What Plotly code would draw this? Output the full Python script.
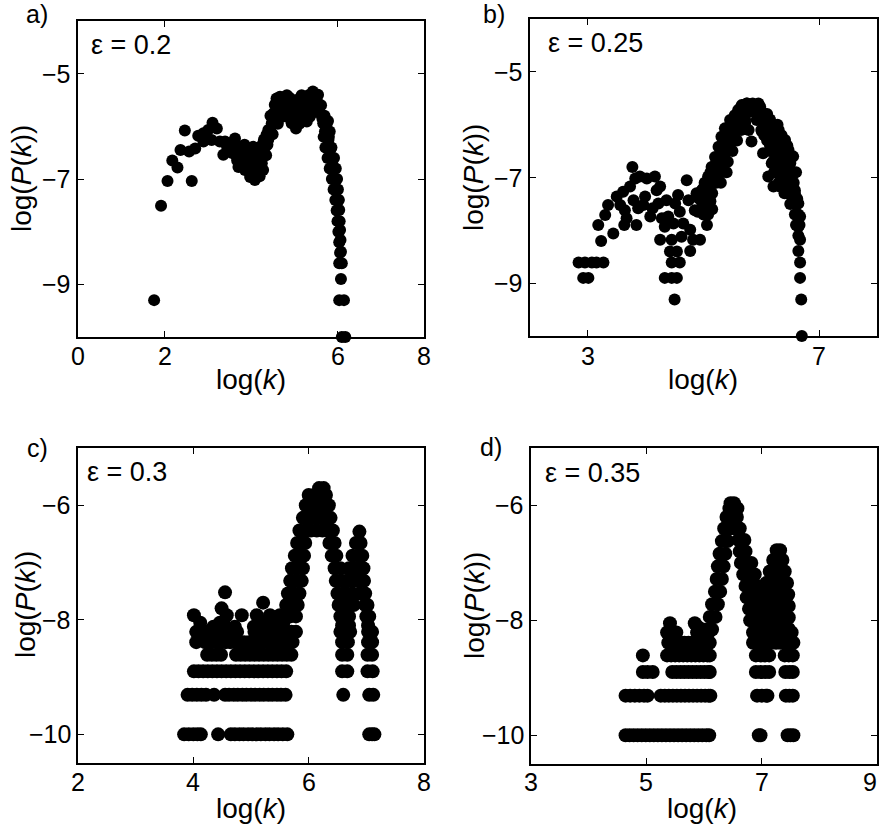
import plotly.graph_objects as go

# ---------------- data (natural-log values) ----------------
# panel a, epsilon = 0.2
a_points = [
    (1.76, -9.30), (1.92, -7.51), (2.07, -7.04), (2.18, -6.65), (2.30, -6.78), (2.37, -6.45),
    (2.47, -6.08), (2.57, -6.48), (2.63, -7.04), (2.71, -6.42), (2.78, -6.18), (2.90, -6.13),
    (2.90, -6.29), (3.01, -6.07), (3.09, -6.26), (3.11, -5.93), (3.21, -6.04), (3.28, -6.29),
    (3.36, -6.54), (3.40, -6.29), (3.45, -6.40), (3.51, -6.35), (3.55, -6.50), (3.58, -6.30),
    (3.60, -6.40), (3.63, -6.23), (3.65, -6.55), (3.68, -6.65), (3.71, -6.39), (3.71, -6.77),
    (3.75, -6.61), (3.78, -6.75), (3.80, -6.60), (3.82, -6.48), (3.85, -6.35), (3.86, -6.83),
    (3.90, -6.67), (3.92, -6.45), (3.95, -6.55), (3.98, -6.96), (4.00, -6.70), (4.02, -6.55),
    (4.05, -6.39), (4.05, -6.85), (4.09, -7.02), (4.10, -6.75), (4.12, -6.90), (4.15, -6.60),
    (4.17, -6.83), (4.18, -6.40), (4.20, -6.95), (4.21, -6.51), (4.25, -6.70), (4.25, -6.55),
    (4.28, -6.83), (4.28, -6.32), (4.30, -6.25), (4.32, -6.40), (4.35, -6.55), (4.36, -6.16),
    (4.38, -6.35), (4.40, -6.07), (4.40, -6.25), (4.45, -6.10), (4.45, -5.80), (4.48, -5.94),
    (4.50, -5.95), (4.50, -6.15), (4.52, -5.75), (4.55, -5.59), (4.55, -5.85), (4.58, -5.85),
    (4.59, -5.47), (4.60, -5.70), (4.62, -5.60), (4.62, -5.95), (4.65, -5.85), (4.67, -5.44),
    (4.70, -5.55), (4.70, -5.70), (4.75, -5.45), (4.75, -5.69), (4.78, -5.55), (4.80, -5.65),
    (4.83, -5.41), (4.83, -5.82), (4.88, -5.45), (4.90, -5.55), (4.90, -5.75), (4.94, -5.94),
    (4.95, -5.50), (4.98, -5.63), (5.00, -5.80), (5.00, -5.65), (5.04, -6.04), (5.05, -5.90),
    (5.05, -5.50), (5.09, -5.56), (5.10, -5.75), (5.12, -5.95), (5.15, -5.65), (5.15, -5.85),
    (5.17, -5.41), (5.20, -5.60), (5.20, -5.85), (5.25, -5.75), (5.25, -5.45), (5.29, -5.91),
    (5.30, -5.55), (5.33, -5.41), (5.35, -5.65), (5.36, -5.82), (5.40, -5.50), (5.40, -5.75),
    (5.43, -5.34), (5.45, -5.65), (5.48, -5.40), (5.50, -5.45), (5.50, -5.70), (5.52, -5.50),
    (5.55, -5.40), (5.56, -5.63), (5.60, -5.75), (5.62, -5.60), (5.65, -5.85), (5.67, -5.94),
    (5.68, -6.20), (5.70, -5.80), (5.71, -6.10), (5.72, -6.40), (5.75, -5.95), (5.77, -6.60),
    (5.78, -5.90), (5.79, -6.26), (5.80, -6.20), (5.82, -6.10), (5.82, -6.80), (5.83, -6.45),
    (5.86, -6.40), (5.87, -6.64), (5.87, -7.00), (5.90, -6.83), (5.91, -7.20), (5.92, -6.60),
    (5.94, -7.02), (5.95, -7.40), (5.96, -6.80), (5.98, -7.21), (5.98, -7.60), (5.99, -7.00),
    (6.00, -7.80), (6.01, -7.20), (6.02, -7.40), (6.02, -8.00), (6.03, -7.40), (6.04, -7.59),
    (6.04, -8.20), (6.05, -7.80), (6.06, -7.97), (6.06, -8.40), (6.07, -8.16), (6.08, -8.38),
    (6.04, -8.60), (6.10, -8.60), (6.08, -8.90), (6.04, -9.30), (6.15, -9.30), (6.10, -10.0),
    (6.18, -10.0),
]

# panel b, epsilon = 0.25
b_points = [
    (2.84, -8.61), (2.95, -8.61), (3.07, -8.61), (3.15, -8.61), (3.27, -8.61), (2.92, -8.90),
    (3.01, -8.90), (3.23, -8.20), (3.18, -7.90), (3.30, -7.71), (3.35, -7.52), (3.44, -8.06),
    (3.50, -7.36), (3.56, -7.52), (3.61, -7.27), (3.64, -7.62), (3.67, -7.77), (3.63, -7.90),
    (3.73, -7.17), (3.77, -6.80), (3.82, -7.02), (3.79, -7.43), (3.84, -7.90), (3.87, -7.58),
    (3.90, -6.98), (3.99, -7.36), (3.96, -7.52), (4.02, -7.02), (4.08, -7.74), (4.12, -7.58),
    (4.16, -6.98), (4.19, -7.24), (4.25, -7.17), (4.22, -7.49), (4.28, -7.77), (4.25, -8.18),
    (4.33, -7.93), (4.36, -7.43), (4.39, -7.74), (4.45, -8.18), (4.42, -8.40), (4.54, -8.40),
    (4.45, -8.61), (4.59, -8.61), (4.33, -8.90), (4.45, -8.90), (4.54, -8.90), (4.50, -9.31),
    (4.48, -7.87), (4.51, -7.49), (4.56, -7.33), (4.59, -7.65), (4.65, -7.87), (4.62, -8.12),
    (4.71, -7.05), (4.74, -7.43), (4.77, -7.99), (4.77, -8.39), (4.82, -8.18), (4.85, -7.62),
    (4.88, -7.30), (4.94, -8.18), (4.97, -7.24), (5.00, -7.49), (5.06, -7.90), (5.03, -7.11),
    (5.08, -6.98), (5.11, -7.36), (5.14, -6.80), (5.17, -7.11), (5.20, -6.61), (5.23, -6.92),
    (5.26, -6.42), (5.29, -6.73), (5.31, -6.23), (5.36, -6.54), (5.37, -6.07), (5.43, -6.35),
    (5.46, -5.91), (5.52, -6.16), (5.54, -5.82), (5.60, -5.72), (5.66, -5.63), (5.75, -5.60),
    (5.80, -5.63), (5.72, -5.97), (5.78, -6.10), (5.83, -6.32), (5.86, -5.72), (5.92, -5.91),
    (5.98, -5.66), (6.01, -6.13), (6.03, -5.78), (6.03, -6.54), (6.06, -5.97), (6.12, -6.29),
    (6.12, -6.98), (6.18, -6.73), (6.21, -7.17), (6.24, -6.20), (6.27, -6.48), (6.29, -6.92),
    (6.32, -7.17), (6.41, -6.29), (6.38, -6.61), (6.44, -6.92), (6.47, -6.48), (6.50, -6.73),
    (6.44, -7.30), (6.53, -6.98), (6.55, -7.43), (6.58, -7.24), (6.64, -7.49), (6.67, -7.74),
    (6.64, -7.93), (6.67, -8.18), (6.64, -8.39), (6.67, -8.61), (6.67, -8.90), (6.69, -9.31),
    (6.70, -10.0),
    # dense hump, left leg
    (4.95, -7.30), (5.05, -7.30), (5.15, -7.30), (5.02, -7.10), (5.12, -7.10), (5.22, -7.10),
    (5.30, -7.10), (5.12, -6.90), (5.22, -6.90), (5.32, -6.90), (5.40, -6.90), (5.22, -6.70),
    (5.32, -6.70), (5.42, -6.70), (5.30, -6.50), (5.40, -6.50), (5.50, -6.50), (5.38, -6.30),
    (5.48, -6.30), (5.58, -6.30), (5.47, -6.10), (5.57, -6.10), (5.65, -6.10), (5.55, -5.90),
    (5.65, -5.90), (5.72, -5.90), (5.62, -5.75), (5.72, -5.75), (5.80, -5.75), (4.98, -7.50),
    (5.08, -7.50), (5.00, -7.70), (5.08, -7.70), (5.00, -7.20), (5.10, -7.20), (5.20, -7.00),
    (5.28, -6.80), (5.36, -6.60), (5.45, -6.40), (5.53, -6.20), (5.60, -6.00), (5.68, -5.82),
    (5.18, -6.80), (5.26, -6.60), (5.35, -6.40), (5.43, -6.20), (5.52, -6.00), (5.60, -5.82),
    (4.92, -7.40), (5.02, -7.40), (5.12, -7.45), (4.90, -7.65), (5.15, -7.60),
    # dense hump, right leg
    (5.75, -5.60), (5.85, -5.60), (5.95, -5.60), (5.90, -5.75), (6.00, -5.75), (5.95, -5.90),
    (6.05, -5.90), (6.15, -5.90), (6.00, -6.10), (6.10, -6.10), (6.20, -6.10), (6.30, -6.10),
    (6.10, -6.30), (6.20, -6.30), (6.30, -6.30), (6.40, -6.30), (6.15, -6.50), (6.25, -6.50),
    (6.35, -6.50), (6.45, -6.50), (6.20, -6.70), (6.30, -6.70), (6.40, -6.70), (6.50, -6.70),
    (6.22, -6.90), (6.32, -6.90), (6.42, -6.90), (6.50, -6.90), (6.30, -7.10), (6.40, -7.10),
    (6.50, -7.10), (6.56, -7.10), (6.40, -7.30), (6.50, -7.30), (6.58, -7.30), (6.50, -7.50),
    (6.60, -7.50), (6.58, -7.70), (6.64, -7.70), (6.60, -7.90), (6.66, -7.90), (6.64, -8.10),
    (6.05, -6.20), (6.15, -6.40), (6.25, -6.60), (6.35, -6.80), (6.45, -7.00), (6.55, -7.20),
    (6.35, -6.20), (6.45, -6.40), (6.55, -6.60), (6.25, -6.20), (6.15, -6.20), (6.45, -6.80),
    (6.35, -7.00), (6.60, -6.90), (6.62, -7.40), (6.28, -6.00), (6.18, -6.00), (6.08, -6.00),
    (5.85, -5.70), (5.95, -5.70), (6.10, -5.80),
]

# panel c, epsilon = 0.3 : quantised low rows (y level -> x values)
c_rows = {
    -10.0: [3.84, 3.92, 4.00, 4.07, 4.13, 4.43, 4.65, 4.72, 4.80, 4.87, 4.95, 5.02, 5.10, 5.17,
            5.25, 5.32, 5.40, 5.47, 5.55, 5.63, 7.05, 7.10, 7.14],
    -9.31: [3.90, 3.98, 4.06, 4.14, 4.22, 4.36, 4.55, 4.62, 4.70, 4.77, 4.85, 4.92, 5.00, 5.07,
            5.15, 5.22, 5.30, 5.37, 5.45, 5.52, 5.60, 6.60, 7.05, 7.12],
    -8.90: [4.01, 4.09, 4.17, 4.25, 4.33, 4.41, 4.49, 4.57, 4.65, 4.73, 4.81, 4.89, 4.97, 5.05,
            5.13, 5.21, 5.29, 5.37, 5.45, 5.53, 5.61, 6.58, 6.67, 7.02, 7.11],
    -8.61: [4.24, 4.32, 4.40, 4.48, 4.74, 4.82, 4.90, 4.98, 5.06, 5.14, 5.22, 5.30, 5.38, 5.46,
            5.54, 5.62, 5.70, 6.58, 6.67, 7.02, 7.10],
    -8.39: [4.05, 4.20, 4.28, 4.40, 4.48, 4.56, 4.64, 4.72, 4.80, 4.88, 4.96, 5.04, 5.12, 5.20,
            5.28, 5.36, 5.44, 5.52, 5.60, 5.68, 5.72, 6.58, 6.68, 7.03, 7.10],
    -8.21: [4.05, 4.13, 4.21, 4.30, 4.38, 4.46, 4.60, 4.68, 4.76, 5.06, 5.14, 5.22, 5.30, 5.38,
            5.46, 5.54, 5.62, 5.70, 5.78, 6.55, 6.65, 6.72, 7.03, 7.10],
}
c_points = [
    # scattered crown above the rows
    (4.01, -7.92), (4.12, -8.05), (4.35, -8.12), (4.46, -8.05), (4.49, -7.80), (4.55, -7.52),
    (4.52, -8.05), (4.58, -7.92), (4.72, -8.12), (4.84, -7.92), (5.05, -8.12), (5.10, -7.92),
    (5.18, -8.05), (5.21, -7.70), (5.25, -8.05), (5.33, -7.92), (5.39, -8.12), (5.47, -8.05),
    (5.50, -7.92), (5.56, -8.05),
    # ascending leg
    (5.58, -7.94), (5.68, -7.94), (5.78, -7.94), (5.61, -7.74), (5.71, -7.74), (5.81, -7.74),
    (5.64, -7.54), (5.74, -7.54), (5.84, -7.54), (5.68, -7.32), (5.78, -7.32), (5.88, -7.32),
    (5.71, -7.10), (5.81, -7.10), (5.90, -7.10), (5.76, -6.88), (5.85, -6.88), (5.92, -6.88),
    (5.80, -6.66), (5.88, -6.66), (5.94, -6.66),
    # summit
    (5.84, -6.44), (5.94, -6.44), (6.04, -6.44), (6.14, -6.44), (6.24, -6.44), (5.90, -6.22),
    (6.00, -6.22), (6.10, -6.22), (6.20, -6.22), (6.30, -6.22), (6.38, -6.22), (5.95, -6.00),
    (6.05, -6.00), (6.15, -6.00), (6.25, -6.00), (6.35, -6.00), (6.00, -5.82), (6.10, -5.82),
    (6.20, -5.82), (6.30, -5.82), (6.18, -5.70), (6.26, -5.70),
    # descending leg
    (6.33, -6.44), (6.42, -6.44), (6.36, -6.66), (6.45, -6.66), (6.40, -6.88), (6.48, -6.88),
    (6.45, -7.10), (6.55, -7.10), (6.47, -7.32), (6.57, -7.32), (6.50, -7.54), (6.60, -7.54),
    (6.52, -7.74), (6.62, -7.74), (6.55, -7.94), (6.65, -7.94), (6.58, -8.10), (6.68, -8.10),
    # second peak
    (6.88, -6.46), (6.82, -6.66), (6.90, -6.66), (6.76, -6.88), (6.86, -6.88), (6.93, -6.88),
    (6.70, -7.10), (6.80, -7.10), (6.90, -7.10), (6.95, -7.10), (6.66, -7.32), (6.76, -7.32),
    (6.86, -7.32), (6.96, -7.32), (6.66, -7.54), (6.76, -7.54), (6.88, -7.54), (6.98, -7.54),
    (6.68, -7.74), (6.78, -7.74), (6.98, -7.74), (7.02, -7.74), (6.70, -7.94), (7.00, -7.94),
    (7.05, -7.94), (6.70, -8.10), (7.03, -8.10),
]

# panel d, epsilon = 0.35 : quantised low rows (y level -> x values)
d_rows = {
    -10.0: [4.64, 4.71, 4.78, 4.85, 4.92, 4.99, 5.06, 5.13, 5.20, 5.27, 5.34, 5.41, 5.48, 5.55,
            5.62, 5.69, 5.76, 5.83, 5.90, 5.97, 6.04, 6.09, 6.95, 6.98, 7.45, 7.50, 7.55],
    -9.31: [4.64, 4.72, 4.80, 4.88, 4.96, 5.02, 5.25, 5.32, 5.39, 5.46, 5.53, 5.60, 5.67, 5.74,
            5.81, 5.88, 5.95, 6.02, 6.08, 6.11, 6.92, 7.00, 7.08, 7.10, 7.42, 7.48, 7.54],
    -8.90: [4.94, 5.02, 5.11, 5.45, 5.52, 5.59, 5.66, 5.73, 5.80, 5.87, 5.94, 6.01, 6.08, 6.10,
            6.90, 6.98, 7.06, 7.13, 7.41, 7.48, 7.54],
    -8.61: [4.94, 5.36, 5.43, 5.50, 5.57, 5.64, 5.71, 5.78, 5.85, 5.92, 5.99, 6.06, 6.10, 6.90,
            6.98, 7.06, 7.13, 7.40, 7.47, 7.54],
    -8.39: [5.38, 5.45, 5.52, 5.59, 5.66, 5.73, 5.80, 5.87, 5.94, 6.01, 6.08, 6.10, 6.85, 6.93,
            7.01, 7.09, 7.17, 7.25, 7.33, 7.41, 7.49, 7.55],
    -8.21: [5.36, 5.45, 5.52, 5.88, 5.95, 6.02, 6.08, 6.85, 6.95, 7.05, 7.15, 7.25, 7.35, 7.45,
            7.52],
}
d_points = [
    (5.41, -8.05), (5.84, -8.05), (5.90, -8.12),
    # ascending leg
    (6.04, -8.16), (6.14, -8.16), (6.10, -7.94), (6.20, -7.94), (6.14, -7.72), (6.24, -7.72),
    (6.19, -7.50), (6.28, -7.50), (6.22, -7.28), (6.31, -7.28), (6.24, -7.06), (6.34, -7.06),
    (6.27, -6.84), (6.37, -6.84), (6.31, -6.62), (6.41, -6.62), (6.35, -6.40), (6.45, -6.40),
    (6.55, -6.40), (6.39, -6.20), (6.49, -6.20), (6.57, -6.20), (6.44, -6.05), (6.52, -6.05),
    (6.58, -6.05), (6.46, -5.96), (6.52, -5.96),
    # descending leg
    (6.62, -6.40), (6.60, -6.60), (6.70, -6.60), (6.62, -6.80), (6.72, -6.80), (6.64, -7.00),
    (6.74, -7.00), (6.82, -7.00), (6.68, -7.20), (6.78, -7.20), (6.88, -7.20), (6.72, -7.40),
    (6.82, -7.40), (6.92, -7.40), (6.74, -7.60), (6.84, -7.60), (6.78, -7.80), (6.88, -7.80),
    (6.80, -8.00), (6.90, -8.00),
    # second peak block
    (7.26, -6.78), (7.32, -6.78), (7.20, -6.95), (7.30, -6.95), (7.36, -6.95), (7.14, -7.15),
    (7.24, -7.15), (7.34, -7.15), (7.40, -7.15), (7.08, -7.35), (7.18, -7.35), (7.28, -7.35),
    (7.38, -7.35), (7.44, -7.35), (6.96, -7.42), (7.04, -7.42),
    (6.96, -7.55), (7.06, -7.55), (7.16, -7.55), (7.26, -7.55), (7.36, -7.55), (7.46, -7.55),
    (6.96, -7.75), (7.06, -7.75), (7.16, -7.75), (7.26, -7.75), (7.36, -7.75), (7.47, -7.75),
    (6.96, -7.95), (7.06, -7.95), (7.16, -7.95), (7.26, -7.95), (7.36, -7.95), (7.47, -7.95),
    (6.96, -8.15), (7.06, -8.15), (7.16, -8.15), (7.26, -8.15), (7.36, -8.15), (7.47, -8.15),
]

panel_labels = ["a)", "b)", "c)", "d)"]
eps_labels = ["ε = 0.2", "ε = 0.25", "ε = 0.3", "ε = 0.35"]
x_ranges = [[0, 8], [2, 8], [2, 8], [3, 9]]
x_ticks = [[0, 2, 6, 8], [3, 7], [2, 4, 6, 8], [3, 5, 7, 9]]
y_ranges = [[-10, -4], [-10, -4], [-10.5, -5], [-10.5, -5]]
y_ticks = [[-5, -7, -9], [-5, -7, -9], [-6, -8, -10], [-6, -8, -10]]

# ---------------- layout geometry (pixels of the 881x830 page) ----------------
W, H = 881, 830
FONT = "Liberation Sans, Arial, Helvetica, sans-serif"
TICK_SIZE = 25
boxes = [(78, 424, 21, 337), (530, 877, 19, 336), (78, 424, 448, 763), (531, 877, 448, 764)]
label_pos = [(24, 14), (481, 14), (25, 448), (478, 447)]
eps_pos = [(89, 45), (546, 43), (85, 472), (543, 473)]
ytitle_pos = [(21, 179), (474, 178), (25, 605), (474, 606)]
xtitle_pos = [(251, 380), (703, 380), (251, 808), (702, 808)]
xticklabel_y = [356, 356, 782, 782]
marker_sizes = [12, 12, 14, 14]


def rows_to_points(rows):
    pts = []
    for yv, xs in rows.items():
        pts.extend((xv, yv) for xv in xs)
    return pts


def fmt(v):
    return ("\u2212" if v < 0 else "") + str(abs(v))


all_points = [a_points, b_points, rows_to_points(c_rows) + c_points,
              rows_to_points(d_rows) + d_points]

fig = go.Figure()
layout = dict(
    width=W, height=H, margin=dict(l=0, r=0, t=0, b=0),
    paper_bgcolor="white", plot_bgcolor="white", showlegend=False,
    font=dict(family=FONT, color="black", size=TICK_SIZE),
    annotations=[],
)

for i in range(4):
    sfx = "" if i == 0 else str(i + 1)
    pts = all_points[i]
    fig.add_trace(go.Scatter(
        x=[p[0] for p in pts], y=[p[1] for p in pts], mode="markers",
        marker=dict(color="black", size=marker_sizes[i], line=dict(width=0)),
        xaxis="x" + sfx, yaxis="y" + sfx, cliponaxis=False, hoverinfo="skip",
    ))
    x0, x1, y0, y1 = boxes[i]
    axis_common = dict(
        showline=True, linecolor="black", linewidth=1.6, mirror="ticks",
        ticks="inside", ticklen=6, tickwidth=1.2, tickcolor="black",
        showgrid=False, zeroline=False, fixedrange=True, showticklabels=False,
    )
    layout["xaxis" + sfx] = dict(
        axis_common, domain=[x0 / W, x1 / W], range=x_ranges[i],
        tickmode="array", tickvals=x_ticks[i], anchor="y" + sfx,
    )
    layout["yaxis" + sfx] = dict(
        axis_common, domain=[1 - y1 / H, 1 - y0 / H], range=y_ranges[i],
        tickmode="array", tickvals=y_ticks[i], anchor="x" + sfx,
    )
    # tick labels, positioned by the axes' own data scales
    for v in x_ticks[i]:
        at_edge = v == x_ranges[i][1] and x1 >= W - 10   # keep the last label on the page
        layout["annotations"].append(dict(
            text=fmt(v), x=v, xref="x" + sfx, y=1 - xticklabel_y[i] / H, yref="paper",
            xanchor="right" if at_edge else "center", xshift=2 if at_edge else 0,
            yanchor="middle", showarrow=False, font=dict(size=TICK_SIZE)))
    for v in y_ticks[i]:
        layout["annotations"].append(dict(
            text=fmt(v), x=(x0 - 5) / W, xref="paper", y=v, yref="y" + sfx,
            xanchor="right", yanchor="middle", showarrow=False,
            font=dict(size=TICK_SIZE)))
    lx, ly = label_pos[i]
    layout["annotations"].append(dict(
        text=panel_labels[i], x=lx / W, y=1 - ly / H, xref="paper", yref="paper",
        xanchor="left", yanchor="middle", showarrow=False, font=dict(size=25)))
    ex, ey = eps_pos[i]
    layout["annotations"].append(dict(
        text=eps_labels[i], x=ex / W, y=1 - ey / H, xref="paper", yref="paper",
        xanchor="left", yanchor="middle", showarrow=False, font=dict(size=27)))
    tx, ty = ytitle_pos[i]
    layout["annotations"].append(dict(
        text="log(<i>P</i>(<i>k</i>))", x=tx / W, y=1 - ty / H, xref="paper", yref="paper",
        xanchor="center", yanchor="middle", textangle=-90, showarrow=False,
        font=dict(size=28)))
    tx, ty = xtitle_pos[i]
    layout["annotations"].append(dict(
        text="log(<i>k</i>)", x=tx / W, y=1 - ty / H, xref="paper", yref="paper",
        xanchor="center", yanchor="middle", showarrow=False, font=dict(size=28)))

fig.update_layout(**layout)
fig.write_html("out.html")
